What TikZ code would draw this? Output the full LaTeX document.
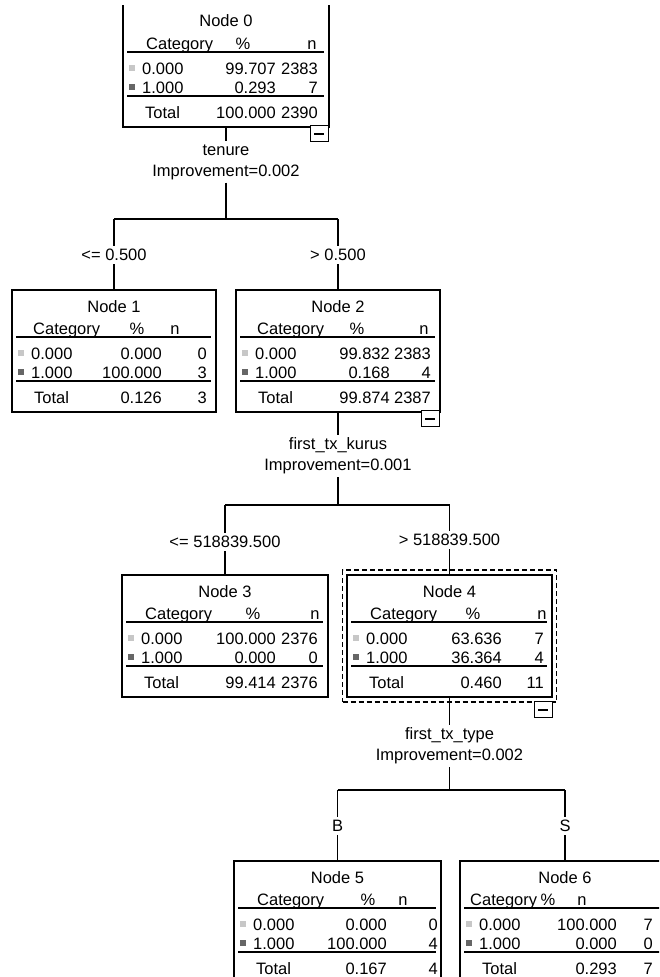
\documentclass[tikz,border=0pt]{standalone}
\usepackage{fontspec}
\setmainfont{Liberation Sans}
\usetikzlibrary{calc}

\tikzset{
  txt/.style={inner sep=0pt, font=\fontsize{16.5}{21}\selectfont},
  tabbox/.style={draw, line width=1.5pt, inner sep=0pt, outer sep=0pt, anchor=north west},
  rule/.style={line width=2pt},
  link/.style={line width=1.5pt},
  lab/.style={txt, inner sep=3pt, align=center},
  foldbox/.style={draw, line width=1.3pt, fill=white, minimum width=18pt, minimum height=16pt, inner sep=0pt, anchor=north east},
  focus/.style={draw, dash pattern=on 5pt off 3pt, line width=1.8pt, inner sep=0pt}
}

% header of a node table: box, title, x of Category, x of %, x of n
\newcommand{\tablehead}[5]{%
  \node[txt, anchor=base] (#1-title) at ($(#1.north)+(0,22)$) {#2};
  \node[txt, anchor=base west] (#1-cat) at ($(#1.north west)+(#3,44)$) {Category};
  \node[txt, anchor=base] (#1-pct) at ($(#1.north west)+(#4,44)$) {\%};
  \node[txt, anchor=base] (#1-n) at ($(#1.north west)+(#5,44)$) {n};
  \draw[rule] ($(#1.north west)+(4,47)$) -- ($(#1.north east)+(-5,47)$);
}

% rows of a node table: box, six values, right edge of % and of n
\newcommand{\tablerows}[9]{%
  \fill[black!22] ($(#1.north west)+(6,60)$) rectangle ++(6,6);
  \fill[black!60] ($(#1.north west)+(6,79)$) rectangle ++(6,6);
  \node[txt, anchor=base west] (#1-c0) at ($(#1.north west)+(19,69)$) {0.000};
  \node[txt, anchor=base east] (#1-p0) at ($(#1.north west)+(#8,69)$) {#2};
  \node[txt, anchor=base east] (#1-k0) at ($(#1.north west)+(#9,69)$) {#3};
  \node[txt, anchor=base west] (#1-c1) at ($(#1.north west)+(19,88)$) {1.000};
  \node[txt, anchor=base east] (#1-p1) at ($(#1.north west)+(#8,88)$) {#4};
  \node[txt, anchor=base east] (#1-k1) at ($(#1.north west)+(#9,88)$) {#5};
  \draw[rule] ($(#1.north west)+(4,91)$) -- ($(#1.north east)+(-5,91)$);
  \node[txt, anchor=base west] (#1-tot) at ($(#1.north west)+(22,113)$) {Total};
  \node[txt, anchor=base east] (#1-pt) at ($(#1.north west)+(#8,113)$) {#6};
  \node[txt, anchor=base east] (#1-kt) at ($(#1.north west)+(#9,113)$) {#7};
}

% the small collapse box under a node
\newcommand{\foldbox}[2]{%
  \node[foldbox] (#1-fold) at (#2) {};
  \draw[line width=2pt] ($(#1-fold.center)+(-5,0)$) -- ++(10,0);
}

\begin{document}
\begin{tikzpicture}[x=1pt, y=-1pt]
  \useasboundingbox (0,0) rectangle (659,977);
  \clip (0,0) rectangle (659,977);

  % boxes
  \node[tabbox, draw=none, minimum width=206pt, minimum height=122pt] (n0) at (123,5) {};
  \draw[line width=1.5pt] (n0.north west) -- (n0.south west) -- (n0.south east) -- (n0.north east);
  \node[tabbox, minimum width=204pt, minimum height=122pt] (n1) at (12,290) {};
  \node[tabbox, minimum width=204pt, minimum height=122pt] (n2) at (236,290) {};
  \node[tabbox, minimum width=206pt, minimum height=122pt] (n3) at (122,575) {};
  \node[tabbox, minimum width=205pt, minimum height=122pt] (n4) at (347,575) {};
  \node[focus, minimum width=214pt, minimum height=132pt] (f4) at (n4.center) {};
  \node[tabbox, minimum width=207pt, minimum height=122pt] (n5) at (234,861) {};
  \node[tabbox, minimum width=210pt, minimum height=122pt] (n6) at (460,861) {};

  % tables
  \tablehead{n0}{Node 0}{23}{120}{189}
  \tablerows{n0}{99.707}{2383}{0.293}{7}{100.000}{2390}{153}{195}
  \tablehead{n1}{Node 1}{21}{125}{163}
  \tablerows{n1}{0.000}{0}{100.000}{3}{0.126}{3}{150}{195}
  \tablehead{n2}{Node 2}{21}{121}{188}
  \tablerows{n2}{99.832}{2383}{0.168}{4}{99.874}{2387}{154}{195}
  \tablehead{n3}{Node 3}{23}{131}{193}
  \tablerows{n3}{100.000}{2376}{0.000}{0}{99.414}{2376}{154}{196}
  \tablehead{n4}{Node 4}{23}{126}{195}
  \tablerows{n4}{63.636}{7}{36.364}{4}{0.460}{11}{155}{197}
  \tablehead{n5}{Node 5}{23}{134}{169}
  \tablerows{n5}{0.000}{0}{100.000}{4}{0.167}{4}{153}{204}
  \tablehead{n6}{Node 6}{10}{88}{122}
  \tablerows{n6}{100.000}{7}{0.000}{0}{0.293}{7}{157}{193}

  % split on tenure
  \node[lab] (s0) at (226,162) {tenure\\Improvement=0.002};
  \coordinate (c1) at (114,219);
  \coordinate (c2) at (338,219);
  \node[lab] (b1) at (114,255) {<= 0.500};
  \node[lab] (b2) at (338,255) {> 0.500};
  \draw[link] (n0.south) -- (s0.north);
  \draw[link] (s0.south) -- (s0.south |- c1);
  \draw[link] (c1) -- (c2);
  \draw[link] (c1) -- (b1.north);
  \draw[link] (b1.south) -- (n1.north);
  \draw[link] (c2) -- (b2.north);
  \draw[link] (b2.south) -- (n2.north);

  % split on first_tx_kurus
  \node[lab] (s2) at (338,456) {first\_tx\_kurus\\Improvement=0.001};
  \coordinate (c3) at (225,505);
  \coordinate (c4) at (449.5,505);
  \node[lab] (b3) at (225,542) {<= 518839.500};
  \node[lab] (b4) at (449.5,540) {> 518839.500};
  \draw[link] (n2.south) -- (s2.north);
  \draw[link] (s2.south) -- (s2.south |- c3);
  \draw[link] (c3) -- (c4);
  \draw[link] (c3) -- (b3.north);
  \draw[link] (b3.south) -- (n3.north);
  \draw[link] (c4) -- (b4.north);
  \draw[link] (b4.south) -- (n4.north);

  % split on first_tx_type
  \node[lab] (s4) at (449.5,746) {first\_tx\_type\\Improvement=0.002};
  \coordinate (c5) at (337.5,790);
  \coordinate (c6) at (565,790);
  \node[lab] (b5) at (337.5,826) {B};
  \node[lab] (b6) at (565,826) {S};
  \draw[link] (n4.south) -- (s4.north);
  \draw[link] (s4.south) -- (s4.south |- c5);
  \draw[link] (c5) -- (c6);
  \draw[link] (c5) -- (b5.north);
  \draw[link] (b5.south) -- (n5.north);
  \draw[link] (c6) -- (b6.north);
  \draw[link] (b6.south) -- (n6.north);

  % collapse boxes
  \foldbox{n0}{$(n0.south east)+(0,-2)$}
  \foldbox{n2}{$(n2.south east)+(0,-2)$}
  \foldbox{n4}{$(n4.south east)+(1,4)$}
\end{tikzpicture}
\end{document}
